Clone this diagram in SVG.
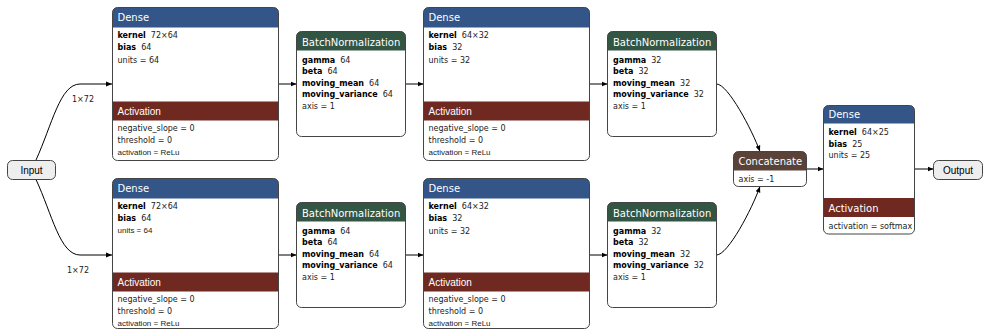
<svg xmlns="http://www.w3.org/2000/svg" width="984" height="330" viewBox="0 0 984 330">
<defs>
<style>
.bg{fill:#fff;stroke:none}
.bd{fill:none;stroke:#444;stroke-width:1}
.dense{fill:#335588}
.act{fill:#702921}
.bn{fill:#335544}
.cat{fill:#5a4238}
.io{fill:#eee;stroke:#444;stroke-width:1}
.h{font-family:"DejaVu Sans",sans-serif;font-size:10px;fill:#fff}
.ha{font-family:"Liberation Sans",Arial,sans-serif;font-size:10px;fill:#fff}
.t{font-family:"DejaVu Sans",sans-serif;font-size:8px;fill:#222}
.s{font-family:"Liberation Sans",Arial,sans-serif;font-size:8px;fill:#222}
.b{font-weight:bold;fill:#000}
.io-t{font-family:"Liberation Sans",Arial,sans-serif;font-size:10px;fill:#000;text-anchor:middle}
.lbl{font-family:"DejaVu Sans",sans-serif;font-size:8px;fill:#222}
.e{fill:none;stroke:#000;stroke-width:1;marker-end:url(#arr)}
</style>
<marker id="arr" markerUnits="userSpaceOnUse" markerWidth="6" markerHeight="6" refX="6" refY="3" orient="auto">
<path d="M0,0.6 L6,3 L0,5.4 Z" fill="#000"/>
</marker>
</defs>
<rect width="984" height="330" fill="#fff"/>

<g id="connectors">
<path class="e" d="M36,160 C52,125 60,84 80,84 L112,84"/>
<path class="e" d="M36,179.5 C52,214 60,255 80,255 L112,255"/>
<path class="e" d="M278.5,84 H296.5"/>
<path class="e" d="M405.5,84 H423.5"/>
<path class="e" d="M589.5,84 H607.5"/>
<path class="e" d="M716.5,84 C728,84 752,130 760,151.5"/>
<path class="e" d="M278.5,255 H296.5"/>
<path class="e" d="M405.5,255 H423.5"/>
<path class="e" d="M589.5,255 H607.5"/>
<path class="e" d="M716.5,255 C728,255 752,209 760,186.5"/>
<path class="e" d="M806.5,169 H823.5"/>
<path class="e" d="M914.5,169 H933.5"/>
<text class="lbl" x="72" y="102">1×72</text>
<text class="lbl" x="67" y="273">1×72</text>
</g>

<g id="input">
<rect class="io" x="7.5" y="160.5" width="48" height="19" rx="5"/>
<text class="io-t" x="31.5" y="173.5">Input</text>
</g>

<g id="dense_1" transform="translate(112.5,7.5)">
<rect class="bg" width="166" height="153" rx="5"/>
<path class="dense" d="M0,20 V5 A5,5 0 0 1 5,0 H161 A5,5 0 0 1 166,5 V20 Z"/>
<rect class="act" x="0" y="94" width="166" height="19"/>
<rect class="bd" width="166" height="153" rx="5"/>
<text class="h" x="5" y="13.2">Dense</text>
<text class="t" x="5" y="30.2"><tspan class="b">kernel</tspan><tspan dx="5">72×64</tspan></text>
<text class="t" x="5" y="42.5"><tspan class="b">bias</tspan><tspan dx="5">64</tspan></text>
<text class="t" x="5" y="55">units = 64</text>
<text class="ha" x="5" y="107.5">Activation</text>
<text class="t" x="5" y="123">negative_slope = 0</text>
<text class="t" x="5" y="135">threshold = 0</text>
<text class="s" x="5" y="147.5">activation = ReLu</text>
</g>

<g id="batchnorm_1" transform="translate(296.5,31.5)">
<rect class="bg" width="109" height="105" rx="5"/>
<path class="bn" d="M0,19 V5 A5,5 0 0 1 5,0 H104 A5,5 0 0 1 109,5 V19 Z"/>
<rect class="bd" width="109" height="105" rx="5"/>
<text class="h" x="5.5" y="14">BatchNormalization</text>
<text class="t" x="5.5" y="31"><tspan class="b">gamma</tspan><tspan dx="5">64</tspan></text>
<text class="t" x="5.5" y="42.5"><tspan class="b">beta</tspan><tspan dx="5">64</tspan></text>
<text class="t" x="5.5" y="54"><tspan class="b">moving_mean</tspan><tspan dx="5">64</tspan></text>
<text class="t" x="5.5" y="65.5"><tspan class="b">moving_variance</tspan><tspan dx="5">64</tspan></text>
<text class="t" x="5.5" y="77">axis = 1</text>
</g>

<g id="dense_2" transform="translate(423.5,7.5)">
<rect class="bg" width="166" height="153" rx="5"/>
<path class="dense" d="M0,20 V5 A5,5 0 0 1 5,0 H161 A5,5 0 0 1 166,5 V20 Z"/>
<rect class="act" x="0" y="94" width="166" height="19"/>
<rect class="bd" width="166" height="153" rx="5"/>
<text class="h" x="5" y="13.2">Dense</text>
<text class="t" x="5" y="30.2"><tspan class="b">kernel</tspan><tspan dx="5">64×32</tspan></text>
<text class="t" x="5" y="42.5"><tspan class="b">bias</tspan><tspan dx="5">32</tspan></text>
<text class="t" x="5" y="55">units = 32</text>
<text class="ha" x="5" y="107.5">Activation</text>
<text class="t" x="5" y="123">negative_slope = 0</text>
<text class="t" x="5" y="135">threshold = 0</text>
<text class="s" x="5" y="147.5">activation = ReLu</text>
</g>

<g id="batchnorm_2" transform="translate(607.5,31.5)">
<rect class="bg" width="109" height="105" rx="5"/>
<path class="bn" d="M0,19 V5 A5,5 0 0 1 5,0 H104 A5,5 0 0 1 109,5 V19 Z"/>
<rect class="bd" width="109" height="105" rx="5"/>
<text class="h" x="5.5" y="14">BatchNormalization</text>
<text class="t" x="5.5" y="31"><tspan class="b">gamma</tspan><tspan dx="5">32</tspan></text>
<text class="t" x="5.5" y="42.5"><tspan class="b">beta</tspan><tspan dx="5">32</tspan></text>
<text class="t" x="5.5" y="54"><tspan class="b">moving_mean</tspan><tspan dx="5">32</tspan></text>
<text class="t" x="5.5" y="65.5"><tspan class="b">moving_variance</tspan><tspan dx="5">32</tspan></text>
<text class="t" x="5.5" y="77">axis = 1</text>
</g>

<g id="dense_3" transform="translate(112.5,178.5)">
<rect class="bg" width="166" height="150" rx="5"/>
<path class="dense" d="M0,20 V5 A5,5 0 0 1 5,0 H161 A5,5 0 0 1 166,5 V20 Z"/>
<rect class="act" x="0" y="94" width="166" height="19"/>
<rect class="bd" width="166" height="150" rx="5"/>
<text class="h" x="5" y="13.2">Dense</text>
<text class="t" x="5" y="30.2"><tspan class="b">kernel</tspan><tspan dx="5">72×64</tspan></text>
<text class="t" x="5" y="42.5"><tspan class="b">bias</tspan><tspan dx="5">64</tspan></text>
<text class="s" x="5" y="54.5">units = 64</text>
<text class="ha" x="5" y="107.5">Activation</text>
<text class="t" x="5" y="123">negative_slope = 0</text>
<text class="t" x="5" y="135">threshold = 0</text>
<text class="s" x="5" y="147">activation = ReLu</text>
</g>

<g id="batchnorm_3" transform="translate(296.5,202.5)">
<rect class="bg" width="109" height="105" rx="5"/>
<path class="bn" d="M0,19 V5 A5,5 0 0 1 5,0 H104 A5,5 0 0 1 109,5 V19 Z"/>
<rect class="bd" width="109" height="105" rx="5"/>
<text class="h" x="5.5" y="14">BatchNormalization</text>
<text class="t" x="5.5" y="31"><tspan class="b">gamma</tspan><tspan dx="5">64</tspan></text>
<text class="t" x="5.5" y="42.5"><tspan class="b">beta</tspan><tspan dx="5">64</tspan></text>
<text class="t" x="5.5" y="54"><tspan class="b">moving_mean</tspan><tspan dx="5">64</tspan></text>
<text class="t" x="5.5" y="65.5"><tspan class="b">moving_variance</tspan><tspan dx="5">64</tspan></text>
<text class="t" x="5.5" y="77">axis = 1</text>
</g>

<g id="dense_4" transform="translate(423.5,178.5)">
<rect class="bg" width="166" height="150" rx="5"/>
<path class="dense" d="M0,20 V5 A5,5 0 0 1 5,0 H161 A5,5 0 0 1 166,5 V20 Z"/>
<rect class="act" x="0" y="94" width="166" height="19"/>
<rect class="bd" width="166" height="150" rx="5"/>
<text class="h" x="5" y="13.2">Dense</text>
<text class="t" x="5" y="30.2"><tspan class="b">kernel</tspan><tspan dx="5">64×32</tspan></text>
<text class="t" x="5" y="42.5"><tspan class="b">bias</tspan><tspan dx="5">32</tspan></text>
<text class="t" x="5" y="55">units = 32</text>
<text class="ha" x="5" y="107.5">Activation</text>
<text class="t" x="5" y="123">negative_slope = 0</text>
<text class="t" x="5" y="135">threshold = 0</text>
<text class="s" x="5" y="147">activation = ReLu</text>
</g>

<g id="batchnorm_4" transform="translate(607.5,202.5)">
<rect class="bg" width="109" height="105" rx="5"/>
<path class="bn" d="M0,19 V5 A5,5 0 0 1 5,0 H104 A5,5 0 0 1 109,5 V19 Z"/>
<rect class="bd" width="109" height="105" rx="5"/>
<text class="h" x="5.5" y="14">BatchNormalization</text>
<text class="t" x="5.5" y="31"><tspan class="b">gamma</tspan><tspan dx="5">32</tspan></text>
<text class="t" x="5.5" y="42.5"><tspan class="b">beta</tspan><tspan dx="5">32</tspan></text>
<text class="t" x="5.5" y="54"><tspan class="b">moving_mean</tspan><tspan dx="5">32</tspan></text>
<text class="t" x="5.5" y="65.5"><tspan class="b">moving_variance</tspan><tspan dx="5">32</tspan></text>
<text class="t" x="5.5" y="77">axis = 1</text>
</g>

<g id="concatenate" transform="translate(733.5,151.5)">
<rect class="bg" width="73" height="35" rx="5"/>
<path class="cat" d="M0,19 V5 A5,5 0 0 1 5,0 H68 A5,5 0 0 1 73,5 V19 Z"/>
<rect class="bd" width="73" height="35" rx="5"/>
<text class="h" x="5" y="13.5">Concatenate</text>
<text class="t" x="5" y="30">axis = -1</text>
</g>

<g id="dense_5" transform="translate(823.5,105.5)">
<rect class="bg" width="91" height="128.5" rx="5"/>
<path class="dense" d="M0,18 V5 A5,5 0 0 1 5,0 H86 A5,5 0 0 1 91,5 V18 Z"/>
<rect class="act" x="0" y="92.5" width="91" height="19"/>
<rect class="bd" width="91" height="128.5" rx="5"/>
<text class="h" x="5" y="12.5">Dense</text>
<text class="t" x="5" y="29.5"><tspan class="b">kernel</tspan><tspan dx="5">64×25</tspan></text>
<text class="t" x="5" y="41"><tspan class="b">bias</tspan><tspan dx="5">25</tspan></text>
<text class="t" x="5" y="52">units = 25</text>
<text class="h" x="5" y="106">Activation</text>
<text class="t" x="5" y="123.5">activation = softmax</text>
</g>

<g id="output">
<rect class="io" x="933.5" y="160.5" width="49" height="19" rx="5"/>
<text class="io-t" x="958" y="173.5">Output</text>
</g>
</svg>
